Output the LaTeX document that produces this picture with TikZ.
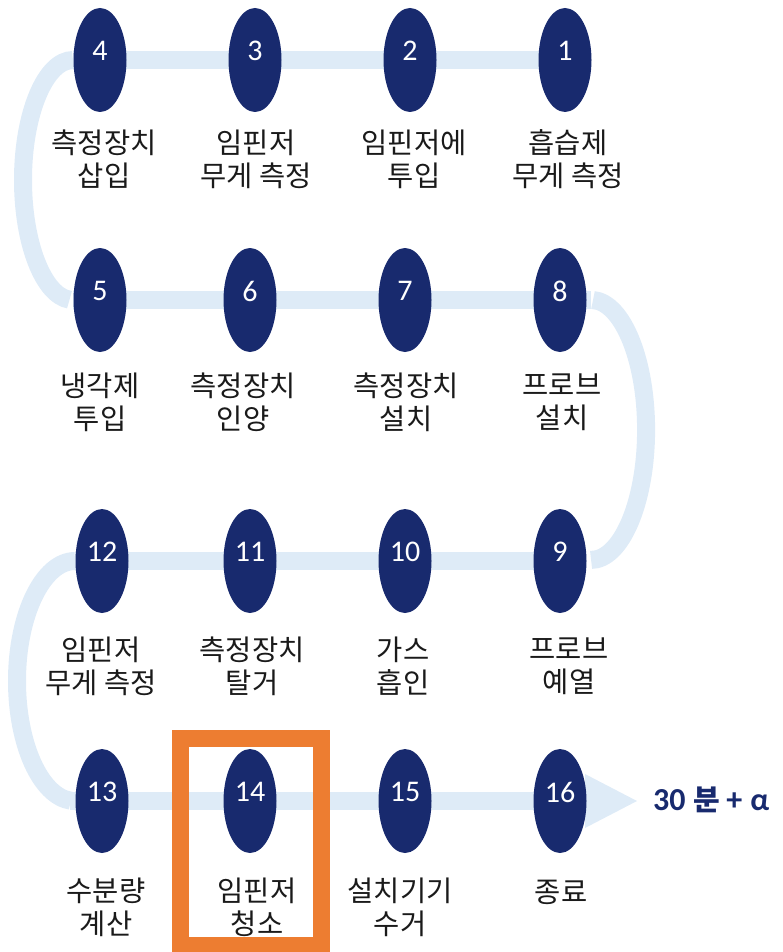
\documentclass[tikz,border=0pt]{standalone}
\usepackage{fontspec}
\setmainfont{Carlito}
\newfontfamily\kr{Noto Sans CJK KR}
\newfontfamily\krb{Noto Sans CJK KR Bold}
\usetikzlibrary{shapes.geometric}
\definecolor{navy}{HTML}{182A6E}
\definecolor{bandcol}{HTML}{DEEBF7}
\definecolor{hiorange}{HTML}{ED7D31}
\definecolor{txt}{HTML}{1A1A1A}
\tikzset{
  dot/.style={ellipse, fill=navy, minimum width=53pt, minimum height=104pt, inner sep=0pt},
  num/.style={text=white, font=\fontsize{30}{30}\selectfont, inner sep=0pt},
  lab/.style={text=txt, align=center, font=\kr\fontsize{28.5}{33}\selectfont, inner sep=0pt},
  band/.style={draw=bandcol, line width=18pt},
}
\begin{document}
\begin{tikzpicture}[x=1pt,y=-1pt]
\useasboundingbox (0,0) rectangle (782,952);
% ellipse positions
\coordinate (p4) at (100,60);  \coordinate (p3) at (255,60);  \coordinate (p2) at (410,60);  \coordinate (p1) at (565,60);
\coordinate (p5) at (100,300); \coordinate (p6) at (250,300); \coordinate (p7) at (405,300); \coordinate (p8) at (560,300);
\coordinate (p12) at (102,561); \coordinate (p11) at (250,561); \coordinate (p10) at (405,561); \coordinate (p9) at (560,561);
\coordinate (p13) at (102,801); \coordinate (p14) at (250,801); \coordinate (p15) at (405,801); \coordinate (p16) at (560,801);
% bands
\draw[band] ([xshift=-27pt]p4) -- (p1);
\draw[band] ([xshift=-27pt]p4) arc[start angle=90, end angle=266, x radius=50pt, y radius=120pt];
\draw[band] ([xshift=-27pt]p5) -- ([xshift=31pt]p8);
\draw[band] ([xshift=33pt]p8) arc[start angle=88, end angle=-90, x radius=55pt, y radius=130pt];
\draw[band] ([xshift=-27pt]p12) -- (p9);
\draw[band] ([xshift=-27pt]p12) arc[start angle=90, end angle=266, x radius=58pt, y radius=120pt];
\draw[band] ([xshift=-32pt]p13) -- (p16);
\fill[bandcol] ([xshift=25pt,yshift=27pt]p16) -- ([xshift=77pt]p16) -- ([xshift=25pt,yshift=-27pt]p16) -- cycle;
% ellipses and numbers
\foreach \i in {1,...,16}{
  \node[dot] (e\i) at (p\i) {};
  \node[num] (n\i) at ([yshift=9pt]e\i.center) {\i};
}
% labels
\node[lab] (l4) at (104,159) {측정장치\\삽입};
\node[lab] (l3) at (256,159) {임핀저\\무게 측정};
\node[lab] (l2) at (414,159) {임핀저에\\투입};
\node[lab] (l1) at (568,159) {흡습제\\무게 측정};
\node[lab] (l5) at (100,402) {냉각제\\투입};
\node[lab] (l6) at (243,402) {측정장치\\인양};
\node[lab] (l7) at (406,402) {측정장치\\설치};
\node[lab] (l8) at (562,402) {프로브\\설치};
\node[lab] (l12) at (101,666) {임핀저\\무게 측정};
\node[lab] (l11) at (252,666) {측정장치\\탈거};
\node[lab] (l10) at (403,666) {가스\\흡인};
\node[lab] (l9) at (569,666) {프로브\\예열};
\node[lab] (l13) at (106,907) {수분량\\계산};
\node[lab] (l14) at (257,907) {임핀저\\청소};
\node[lab] (l15) at (400,907) {설치기기\\수거};
\node[lab] (l16) at (561,892) {종료};
% time note
\node[text=navy, inner sep=0pt, anchor=west, font=\bfseries\fontsize{32}{32}\selectfont] (tm) at (653,800) {30\hspace{8pt}{\krb\fontsize{29}{32}\selectfont 분}\hspace{6pt}+\hspace{8pt}α};
% highlight box
\node[draw=hiorange, line width=17pt, minimum width=141pt, minimum height=207.5pt, inner sep=0pt] (hl) at (251,841.75) {};
\end{tikzpicture}
\end{document}
